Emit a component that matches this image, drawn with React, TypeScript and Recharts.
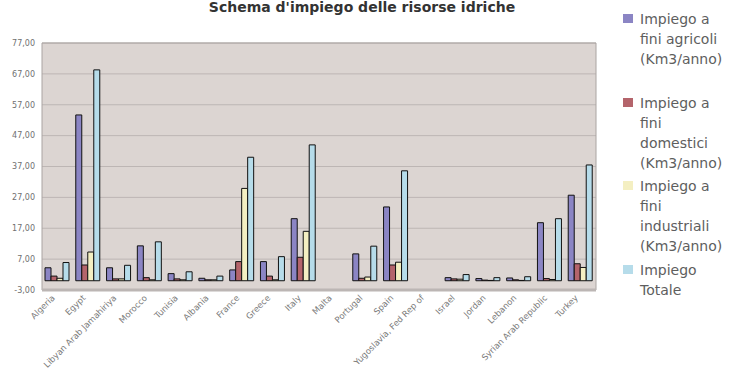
import React from 'react';
import { BarChart, Bar, XAxis, YAxis, CartesianGrid, Legend, ReferenceArea } from 'recharts';

const countries = [
  'Algeria', 'Egypt', 'Libyan Arab Jamahiriya', 'Morocco', 'Tunisia', 'Albania',
  'France', 'Greece', 'Italy', 'Malta', 'Portugal', 'Spain', 'Yugoslavia, Fed Rep of',
  'Israel', 'Jordan', 'Lebanon', 'Syrian Arab Republic', 'Turkey',
];

// Km3/anno
const agricolo = [4.2, 53.7, 4.2, 11.3, 2.3, 0.8, 3.5, 6.2, 20.1, 0, 8.7, 23.9, 0, 1.0, 0.7, 0.9, 18.8, 27.7];
const domestico = [1.5, 5.1, 0.6, 1.0, 0.6, 0.3, 6.2, 1.5, 7.6, 0, 0.8, 5.1, 0, 0.6, 0.2, 0.3, 0.7, 5.5];
const industriale = [0.8, 9.3, 0.6, 0.3, 0.3, 0.3, 29.9, 0.3, 16.0, 0, 1.2, 6.0, 0, 0.5, 0.1, 0.1, 0.4, 4.3];
const totale = [5.9, 68.3, 5.0, 12.6, 2.9, 1.5, 40.0, 7.8, 44.0, 0, 11.2, 35.6, 0, 2.0, 1.0, 1.3, 20.1, 37.5];

const yTicks = [-3, 7, 17, 27, 37, 47, 57, 67, 77];

const series = [
  { key: 'agr', name: 'Impiego a fini agricoli (Km3/anno)', color: '#8b85c4' },
  { key: 'dom', name: 'Impiego a fini domestici (Km3/anno)', color: '#b4646b' },
  { key: 'ind', name: 'Impiego a fini industriali (Km3/anno)', color: '#f4efc2' },
  { key: 'tot', name: 'Impiego Totale', color: '#b6dcea' },
];

const rows = countries.map((c, i) => ({
  country: c,
  agr: agricolo[i],
  dom: domestico[i],
  ind: industriale[i],
  tot: totale[i],
}));

const FONT = '"DejaVu Sans", Verdana, sans-serif';

const CountryTick = ({ x, y, payload }: any) => {
  const px = x - 2;
  const py = y + 6.5;
  return (
    <text
      x={px}
      y={py}
      transform={`rotate(-45 ${px} ${py})`}
      textAnchor="end"
      fontSize={8.5}
      fontFamily={FONT}
      fill="#7a7a7a"
    >
      {payload.value}
    </text>
  );
};

// legend keeps the series order, one fixed-height block per entry
const SideLegend = () => (
  <div style={{ fontFamily: FONT, fontSize: 14, lineHeight: '20px', color: '#5e5e5e', textAlign: 'left' }}>
    {series.map((s) => (
      <div key={s.key} style={{ position: 'relative', height: 83.7, paddingLeft: 17 }}>
        <span
          style={{
            position: 'absolute', left: 0, top: 5, width: 10, height: 9,
            background: s.color,
          }}
        />
        <div style={{ width: 92 }}>{s.name}</div>
      </div>
    ))}
  </div>
);

export default function App() {
  return (
    <div style={{ position: 'absolute', left: 0, top: 0, width: 730, height: 371, background: '#fff', fontFamily: FONT }}>
      <div
        style={{
          position: 'absolute', left: 0, top: 0, width: 724, textAlign: 'center',
          fontSize: 14, fontWeight: 'bold', lineHeight: '14px', color: '#333',
        }}
      >
        Schema d'impiego delle risorse idriche
      </div>
      <BarChart
        width={730}
        height={371}
        data={rows}
        margin={{ top: 43, right: 134, bottom: 0, left: 0 }}
        barGap={0}
        barSize={6}
      >
        <CartesianGrid vertical={false} stroke="#bdb6b4" fill="#dcd5d2" />
        <ReferenceArea y1={-3} y2={77} fill="none" stroke="#aaa4a2" strokeWidth={1} />
        <XAxis
          dataKey="country"
          interval={0}
          height={81}
          tickLine={false}
          tickSize={0}
          axisLine={{ stroke: '#bcb6b4', strokeWidth: 3 }}
          tick={<CountryTick />}
        />
        <YAxis
          width={42}
          domain={[-3, 77]}
          ticks={yTicks}
          interval={0}
          axisLine={false}
          tickLine={false}
          tickSize={4}
          tickMargin={3}
          tick={{ fontSize: 8, fontFamily: FONT, fill: '#707070' }}
          tickFormatter={(v: number) => v.toFixed(2).replace('.', ',')}
        />
        <Legend
          layout="horizontal"
          verticalAlign="middle"
          align="center"
          content={<SideLegend />}
          wrapperStyle={{ position: 'absolute', left: 623, top: 9, width: 107, height: 340 }}
        />
        {series.map((s) => (
          <Bar
            key={s.key}
            dataKey={s.key}
            name={s.name}
            fill={s.color}
            stroke="#111"
            strokeWidth={1}
            isAnimationActive={false}
          />
        ))}
      </BarChart>
    </div>
  );
}
